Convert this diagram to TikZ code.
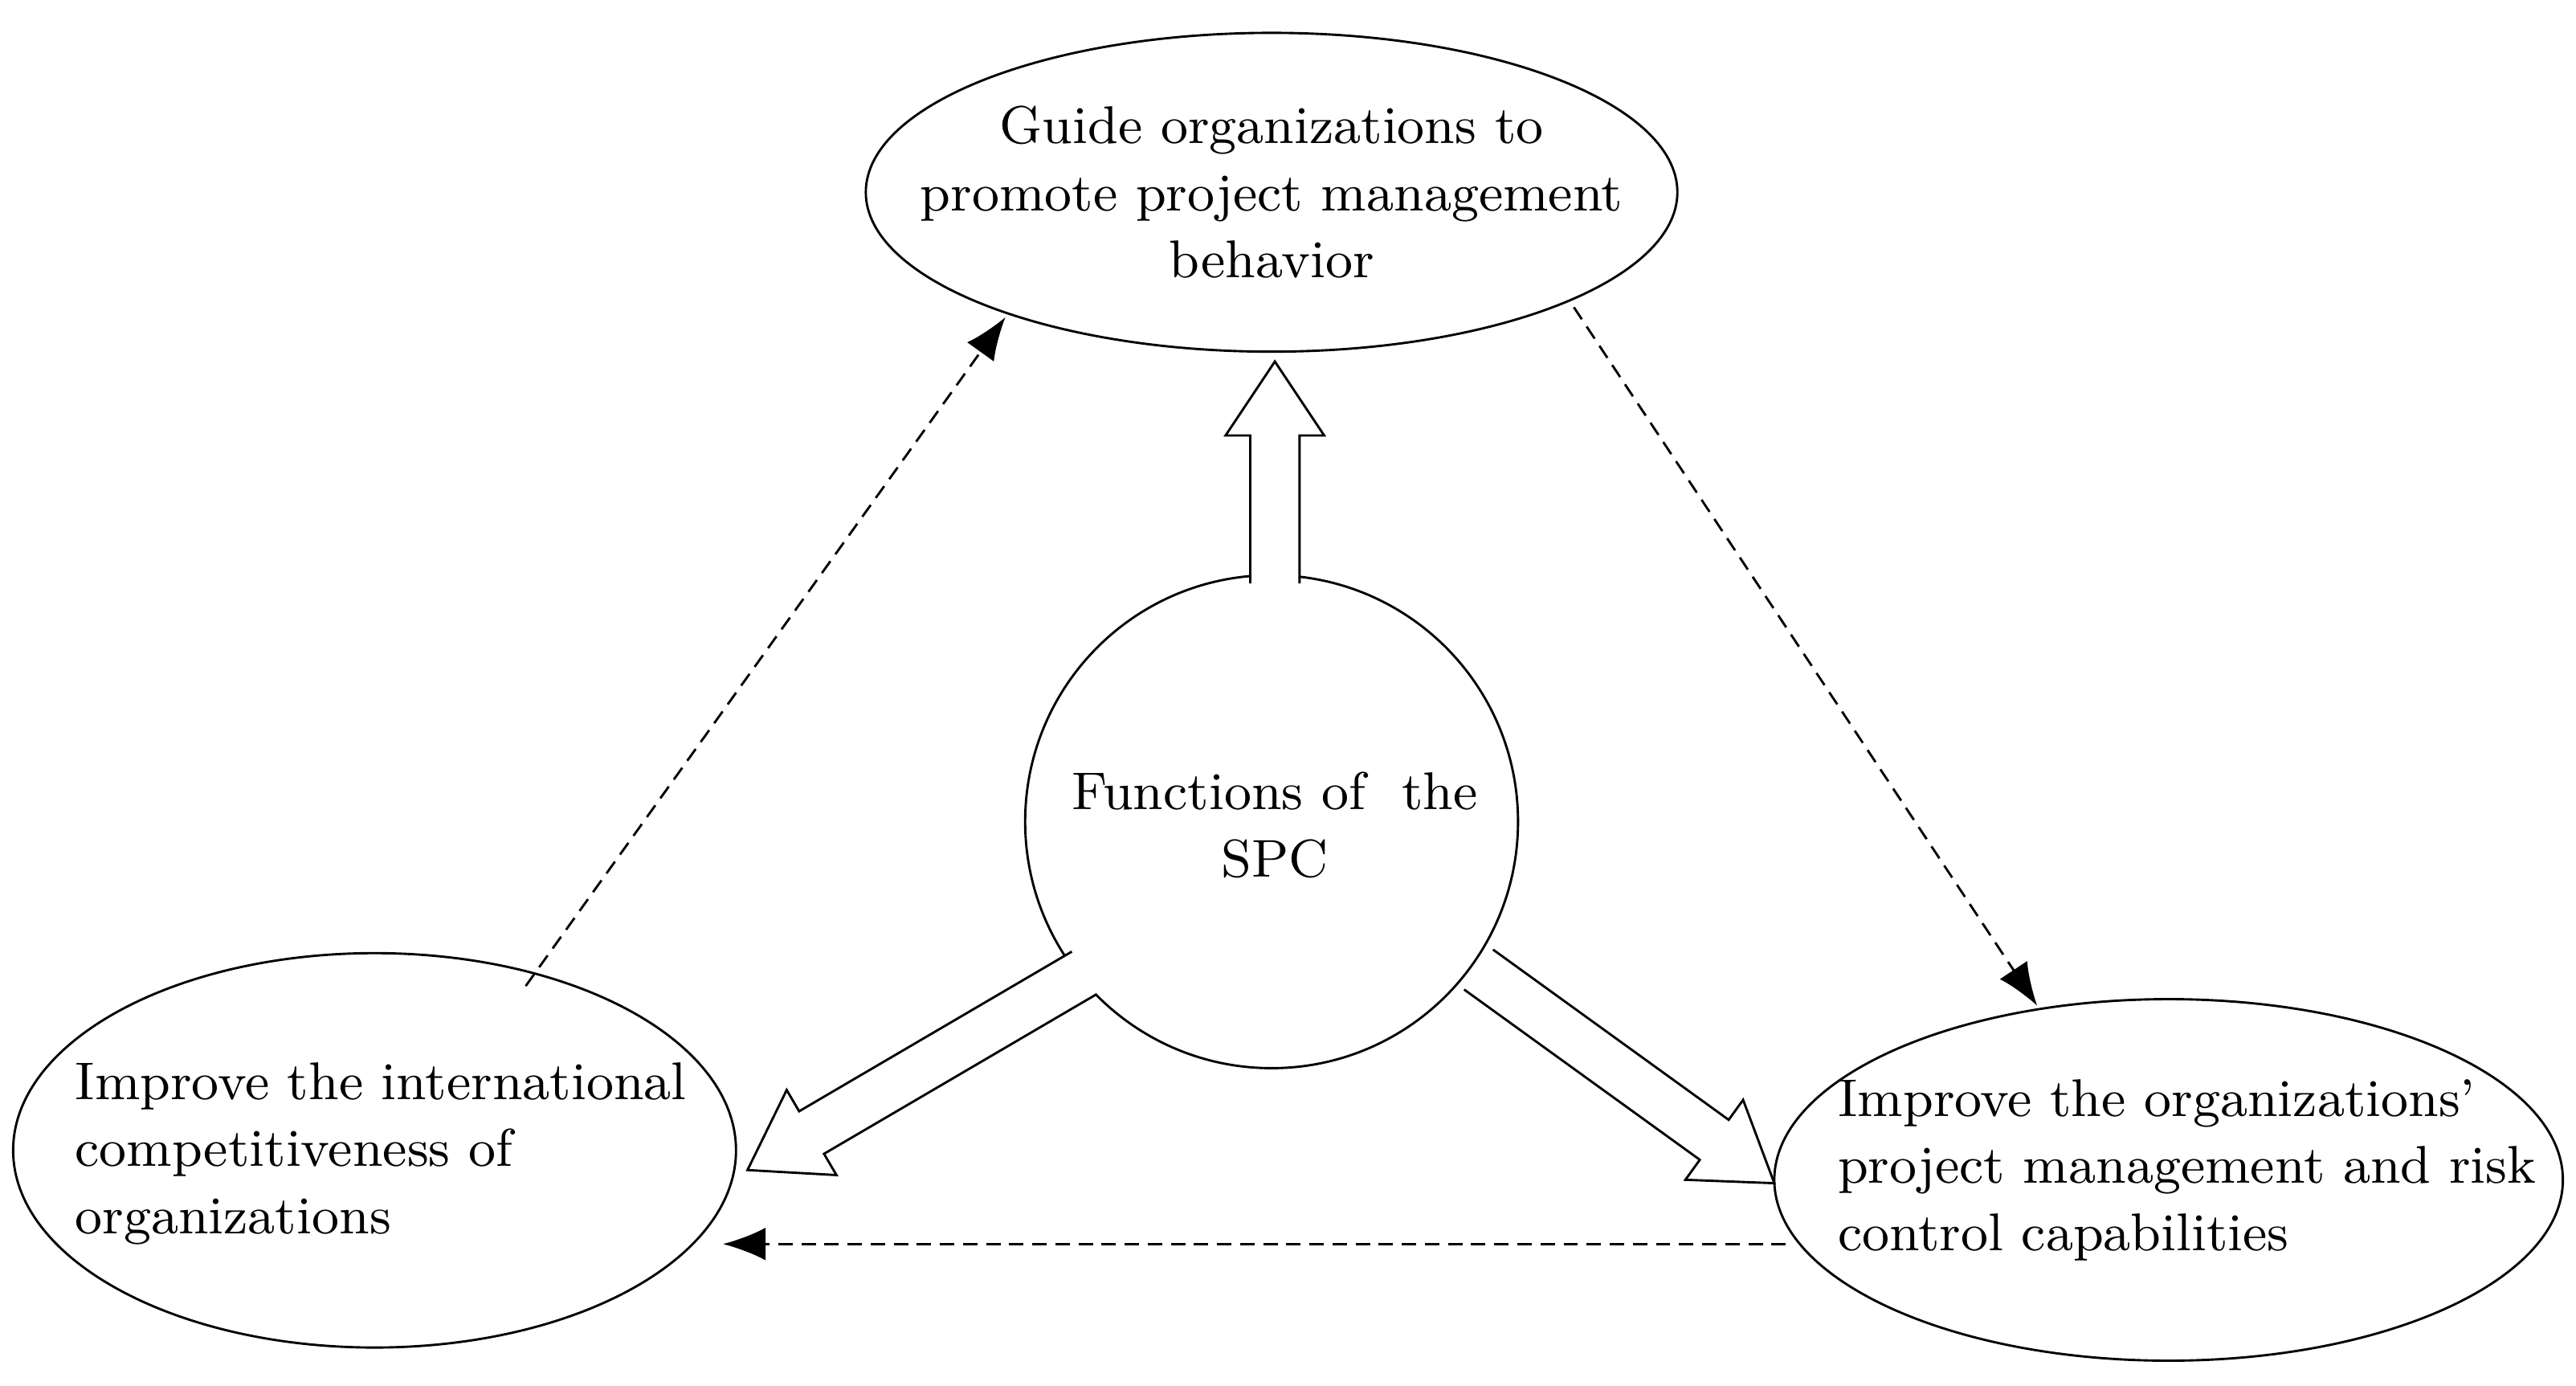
\documentclass[tikz,border=0pt]{standalone}
\usetikzlibrary{calc,arrows.meta}
\tikzset{
  bubble/.style={ellipse, draw, thick},
  dasharrow/.style={dash pattern=on 2.5pt off 1.5pt, -{Latex[length=2.6mm,width=2mm]}},
  label/.style={font=\fontsize{9.2}{11.6}\selectfont, inner sep=0pt}
}
% hollow block arrow from #1 to #2
\newcommand\hollowarrow[2]{%
  \draw[thin, fill=white] let \p1=($(#2)-(#1)$), \n1={atan2(\y1,\x1)}, \n2={veclen(\x1,\y1)-12.8pt} in
    ($(#1)+(\n1+90:0.15)$) -- ($($(#1)!\n2!(#2)$)+(\n1+90:0.15)$) -- ($($(#1)!\n2!(#2)$)+(\n1+90:0.3)$)
    -- (#2) -- ($($(#1)!\n2!(#2)$)+(\n1-90:0.3)$) -- ($($(#1)!\n2!(#2)$)+(\n1-90:0.15)$)
    -- ($(#1)+(\n1-90:0.15)$);}
\begin{document}
\begin{tikzpicture}
\useasboundingbox (0,0) rectangle (15.68,8.43);
\draw[thin] (7.74,7.26) ellipse (2.47 and 0.97);
\node[label, align=center] (guide) at (7.74,7.26) {Guide organizations to\\promote project management\\behavior};
\draw[thin] (7.74,3.43) circle (1.50);
\node[label, align=center] (spc) at (7.76,3.41) {Functions of~ the\\SPC};
\draw[thin] (2.28,1.43) ellipse (2.20 and 1.20);
\node[label, align=left, anchor=west] (intl) at (0.45,1.41) {Improve the international\\competitiveness of\\organizations};
\draw[thin] (13.20,1.25) ellipse (2.40 and 1.10);
\node[label, align=left, anchor=west] (risk) at (11.18,1.31) {Improve the organizations'\\project management and risk\\control capabilities};
% hollow arrows out of the centre
\coordinate (upS) at (7.76,4.88);  \coordinate (upE) at (7.76,6.23);
\coordinate (lfS) at (6.60,2.51);  \coordinate (lfE) at (4.55,1.31);
\coordinate (rtS) at (9.00,2.53);  \coordinate (rtE) at (10.80,1.23);
\hollowarrow{upS}{upE}
\hollowarrow{lfS}{lfE}
\hollowarrow{rtS}{rtE}
% dashed cycle
\coordinate (d1S) at (3.20,2.43);  \coordinate (d1E) at (6.12,6.50);
\coordinate (d2S) at (9.58,6.56);  \coordinate (d2E) at (12.40,2.31);
\coordinate (d3S) at (10.87,0.86); \coordinate (d3E) at (4.40,0.86);
\draw[dasharrow] (d1S) -- (d1E);
\draw[dasharrow] (d2S) -- (d2E);
\draw[dasharrow] (d3S) -- (d3E);
\end{tikzpicture}
\end{document}
